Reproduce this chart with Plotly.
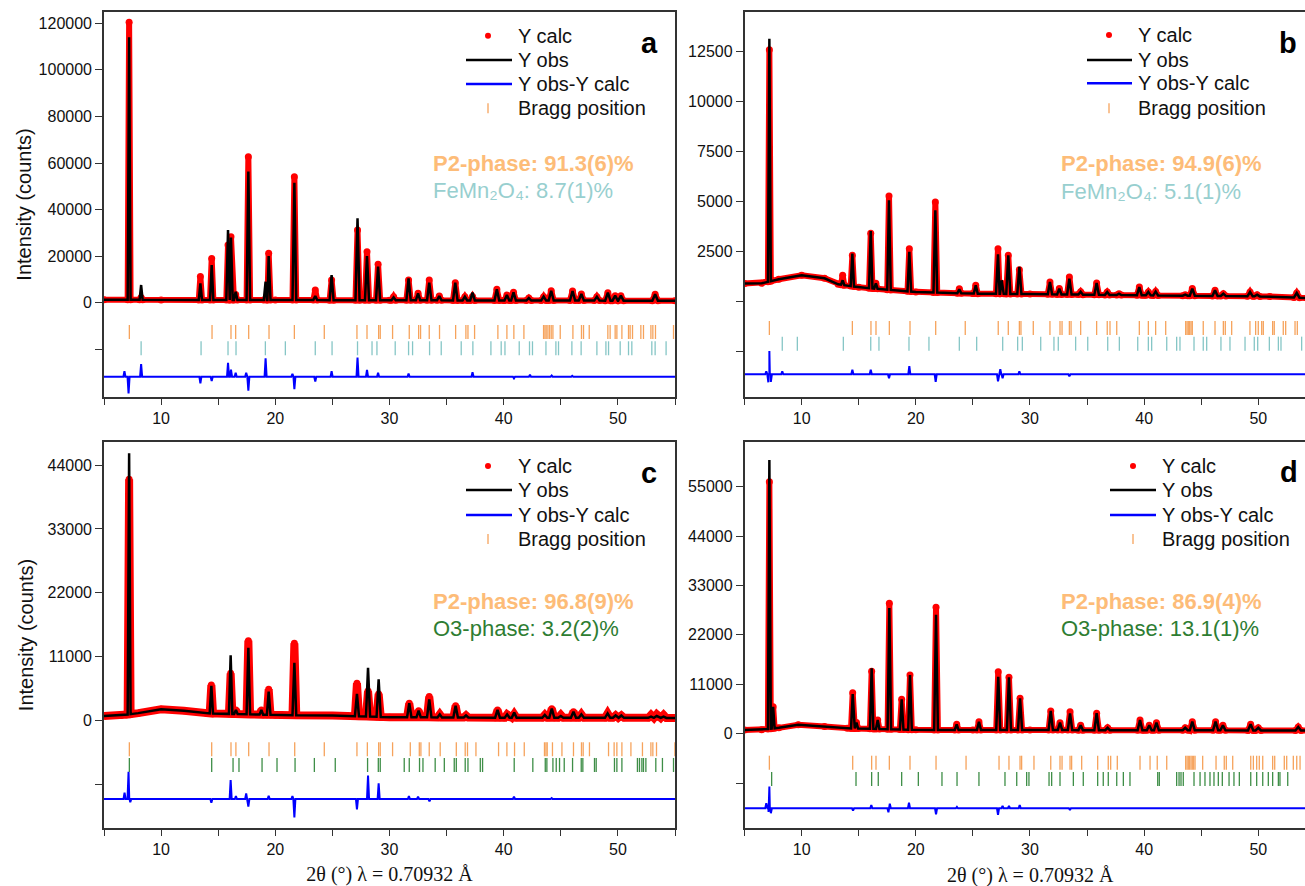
import numpy as np
import plotly.graph_objects as go

W, H = 1305, 886

# ---------------- Panel a ----------------
a_bg_x = [5, 10, 20, 30, 40, 55]
a_bg_y = [1250, 1200, 1150, 1050, 950, 850]
a_pk_x = [7.2, 8.25, 13.44, 14.43, 15.86, 16.12, 16.53, 17.64, 19.15, 19.42, 21.67, 23.5, 24.93,
          27.2, 28.03, 29.0, 30.36, 31.67, 32.5, 33.48, 34.36, 35.76, 36.6, 37.27, 39.4, 40.28,
          40.86, 42.2, 43.5, 44.16, 46.03, 46.8, 48.16, 49.12, 49.76, 50.26, 53.26]
a_obs = [114000, 7600, 8300, 16200, 31200, 28000, 4700, 56300, 9000, 20000, 51500, 2900, 11900,
         36250, 20000, 15500, 2300, 10480, 4040, 8600, 2900, 8600, 2600, 4300, 5750, 3300,
         4470, 2000, 2600, 5150, 5020, 3740, 2600, 4300, 3000, 3000, 3600]
a_calc = [120500, 2200, 11200, 19000, 24800, 28300, 3500, 62700, 1500, 21200, 54100, 5450, 9750,
          31200, 21900, 16500, 2600, 9800, 4040, 9750, 2900, 8600, 2600, 2700, 5750, 3300,
          4470, 2000, 2600, 5150, 5020, 3740, 2600, 4300, 3000, 3000, 3600]
a_diff_x = [6.79, 7.15, 8.25, 13.44, 14.43, 15.86, 16.12, 16.53, 17.45, 17.64, 19.15, 21.5, 21.67,
            23.5, 24.93, 27.2, 28.03, 29.0, 31.67, 37.27, 40.9, 42.3, 44.2, 46.0]
a_diff_y = [2400, -7200, 5400, -2900, -1900, 6000, 3000, 1700, 1700, -6000, 7900, 1200, -5400,
            -2100, 2400, 8200, 2900, 1700, 1400, 1900, -700, 800, 500, 400]
a_p2 = [7.22, 14.46, 16.12, 16.53, 17.67, 19.45, 21.67, 24.29, 27.15, 28.03, 29.05, 29.19, 30.27,
        31.73, 32.55, 32.72, 33.48, 34.38, 35.79, 36.69, 36.87, 37.45, 39.49, 40.28, 40.89, 41.77,
        43.49, 43.61, 43.72, 43.87, 44.01, 44.16, 44.31, 44.95, 46.06, 46.81, 46.99, 47.49, 49.12,
        49.32, 49.76, 49.91, 50.35, 50.93, 51.07, 51.28, 52.01, 52.24, 52.89, 53.06, 53.29, 54.87]
a_ph2 = [8.25, 13.5, 15.86, 16.56, 19.13, 20.88, 23.5, 24.97, 27.2, 28.47, 28.9, 30.5, 31.67, 32.02,
         33.51, 34.53, 36.28, 37.3, 38.88, 39.78, 40.11, 41.36, 42.26, 42.52, 43.7, 44.57, 44.8,
         45.97, 46.78, 48.16, 48.95, 49.18, 50.2, 50.93, 51.22, 52.97, 53.26, 54.22]

# ---------------- Panel b ----------------
b_bg_x = [5, 6.5, 8, 10, 12, 13.2, 15, 20, 25, 30, 40, 51, 55]
b_bg_y = [885, 900, 1100, 1300, 1150, 850, 700, 465, 385, 360, 300, 240, 150]
b_pk_x = [7.17, 13.59, 14.44, 16.05, 16.5, 17.65, 19.43, 21.71, 23.81, 25.25, 27.2, 27.52, 28.1,
          29.07, 31.75, 32.57, 33.45, 34.44, 35.84, 36.77, 37.8, 39.58, 40.37, 41.01, 43.6, 44.22,
          46.21, 46.94, 49.28, 49.9, 53.37]
b_obs = [13130, 1050, 2385, 3515, 900, 5050, 2470, 4550, 600, 800, 2350, 1050, 2300,
         1717, 965, 635, 1130, 480, 915, 465, 380, 715, 465, 485, 330, 635,
         550, 380, 465, 330, 415]
b_calc = [12580, 1300, 2300, 3400, 900, 5270, 2630, 4970, 630, 800, 2630, 900, 2300,
          1580, 965, 635, 1215, 480, 915, 465, 380, 715, 465, 485, 330, 635,
          550, 380, 465, 330, 415]
b_diff_x = [6.9, 7.08, 7.17, 7.3, 8.3, 14.44, 16.05, 17.65, 19.43, 21.74, 27.2, 27.4, 27.6, 29.07, 33.45]
b_diff_y = [150, -400, 1170, -380, 150, 230, 230, -200, 415, -380, -350, 250, -200, 150, -100]
b_p2 = [7.17, 14.44, 16.07, 16.51, 17.68, 19.49, 21.74, 24.33, 27.22, 28.1, 29.07, 29.21, 30.29,
        31.75, 32.63, 32.81, 33.45, 33.6, 34.44, 35.84, 36.77, 37.01, 37.6, 39.58, 40.37, 41.01,
        41.89, 43.64, 43.76, 43.87, 43.99, 44.11, 44.22, 45.18, 46.21, 46.94, 47.11, 47.67, 49.27,
        49.77, 50.0, 50.3, 50.44, 51.26, 51.4, 52.19, 52.4, 53.22, 53.42]
b_ph2 = [8.3, 9.62, 13.65, 16.05, 16.77, 19.4, 21.15, 23.81, 25.33, 27.61, 28.92, 29.33, 30.94,
         32.1, 32.48, 34.0, 35.06, 36.81, 37.83, 39.44, 40.37, 40.66, 41.98, 42.85, 43.14, 44.37,
         45.18, 45.48, 46.73, 47.52, 48.84, 49.65, 49.95, 50.97, 51.76, 51.99, 53.8]

# ---------------- Panel c ----------------
c_bg_x = [5, 6.5, 8, 10, 12, 14, 20, 25, 30, 40, 55]
c_bg_y = [810, 900, 1300, 1960, 1700, 1270, 980, 900, 600, 520, 480]
c_pk_x = [7.2, 14.4, 16.09, 16.55, 17.64, 18.78, 19.42, 21.67, 27.15, 28.12, 29.05, 31.73, 32.55,
          33.48, 34.4, 35.79, 36.7, 39.46, 40.3, 40.92, 43.6, 44.21, 45.0, 46.11, 46.8, 49.1,
          49.8, 50.3, 52.9, 53.4, 54.0]
c_obs = [46020, 6000, 11250, 1840, 12560, 1840, 5000, 9980, 4600, 9120, 7120, 2990, 1720,
         3680, 1100, 2580, 900, 1840, 1100, 1380, 1000, 2070, 800, 1550, 1100, 1260,
         900, 900, 700, 800, 700]
c_calc = [41550, 6140, 8150, 1840, 13770, 1840, 5400, 13320, 6440, 5100, 4600, 2990, 1720,
          4140, 1100, 2580, 900, 1840, 1100, 1150, 1000, 2070, 1000, 1550, 1100, 1260,
          900, 900, 1000, 1100, 1000]
c_diff_x = [6.8, 7.15, 7.3, 14.4, 16.09, 16.55, 17.45, 17.64, 19.42, 21.5, 21.67, 27.15, 28.12,
            29.05, 31.7, 32.5, 33.5, 40.9, 44.2]
c_diff_y = [1090, 4700, -570, -630, 3270, 500, 980, -1320, 570, 500, -3150, -1780, 4020,
            2700, 500, 400, -400, 400, 150]
c_p2 = [7.22, 14.43, 16.12, 16.55, 17.67, 19.45, 21.7, 24.29, 27.15, 28.06, 29.05, 29.19, 30.27,
        31.82, 32.61, 32.75, 33.48, 34.44, 35.85, 36.63, 36.83, 37.57, 39.55, 40.28, 40.95, 41.8,
        43.57, 43.7, 43.81, 44.27, 45.1, 46.11, 46.81, 46.96, 47.51, 49.18, 49.67, 49.91, 50.35,
        51.14, 52.15, 52.89, 53.06, 53.38, 54.99]
c_ph2 = [7.22, 14.43, 16.3, 16.82, 18.84, 20.15, 21.73, 23.42, 25.25, 28.08, 29.02, 29.19, 31.29,
         31.73, 32.63, 32.93, 34.0, 34.8, 35.67, 35.85, 36.63, 36.87, 37.95, 38.15, 40.92, 42.55,
         43.64, 43.78, 44.31, 44.6, 44.89, 45.3, 46.03, 46.79, 46.93, 47.95, 48.1, 49.7, 49.91,
         50.35, 51.71, 51.89, 52.1, 52.24, 52.45, 53.32, 53.9, 54.87]

# ---------------- Panel d ----------------
d_bg_x = [5, 6.5, 8, 9.7, 12, 14, 20, 25, 30, 40, 55]
d_bg_y = [820, 900, 1300, 2000, 1600, 1200, 850, 800, 800, 780, 700]
d_pk_x = [7.17, 7.5, 14.47, 14.8, 16.13, 16.66, 17.68, 18.76, 19.49, 21.77, 23.58, 25.53, 27.22,
          28.16, 29.13, 31.82, 32.63, 33.51, 34.44, 35.84, 36.8, 39.64, 40.45, 41.08, 43.6, 44.22,
          46.26, 46.9, 49.33, 50.0, 53.5]
d_obs = [60950, 6000, 8800, 2500, 14560, 3050, 28000, 7660, 13070, 26500, 2090, 2670, 12690,
         12550, 7880, 5050, 2450, 4500, 1850, 4540, 1300, 3050, 1850, 2450, 1300, 2670,
         2670, 1850, 2100, 1300, 1480]
d_calc = [56120, 6000, 9130, 2500, 13900, 3050, 29040, 7660, 13070, 28150, 2090, 2670, 13810,
          12550, 7880, 5050, 2450, 4900, 1850, 4540, 1300, 3050, 1850, 2450, 1300, 2670,
          2670, 1850, 2100, 1300, 1480]
d_diff_x = [6.9, 7.1, 7.17, 7.3, 14.5, 16.1, 17.6, 17.72, 19.4, 21.77, 23.6, 27.2, 27.6, 28.16, 29.1, 33.5]
d_diff_y = [1110, -800, 4830, -1110, -520, 740, -900, 1000, 1260, -1340, 300, -1480, 500, 500, 740, -400]
d_p2 = [7.17, 14.47, 16.13, 16.51, 17.68, 19.49, 21.77, 24.4, 27.29, 28.16, 29.13, 29.27, 30.35,
        31.82, 32.63, 32.81, 33.51, 33.65, 34.53, 35.93, 36.86, 37.07, 37.65, 39.64, 40.52, 41.15,
        41.98, 43.64, 43.76, 43.87, 43.99, 44.11, 44.22, 44.34, 44.46, 45.13, 46.3, 47.02, 47.2,
        47.76, 49.34, 49.57, 49.86, 50.09, 50.39, 51.26, 51.44, 52.28, 52.49, 53.07, 53.37, 53.66]
d_ph2 = [7.37, 14.76, 16.13, 16.71, 18.76, 20.22, 22.29, 23.61, 25.53, 27.81, 28.84, 29.71, 29.91,
         31.67, 31.9, 32.63, 33.8, 34.67, 35.93, 36.42, 36.86, 37.6, 38.18, 38.76, 41.19, 41.33,
         42.85, 43.06, 43.23, 43.43, 44.37, 44.9, 45.33, 45.77, 46.12, 46.5, 46.85, 47.44, 47.87,
         48.34, 49.34, 49.86, 50.39, 50.88, 51.26, 51.76, 51.9, 52.58]

X_TICKS_MAJOR = [10, 20, 30, 40, 50]
X_TICKS_MINOR = [5, 15, 25, 35, 45, 55]
Y_TITLE = "Intensity (counts)"
X_TITLE = "2θ (°) λ = 0.70932 Å"

SANS = "Liberation Sans, Arial, sans-serif"
SERIF = "Liberation Serif, Times New Roman, serif"
ORANGE_TXT = "#FDBC78"
TEAL_TXT = "#98CFCF"
GREEN_TXT = "#2E7D32"
ORANGE_TICK = "#F6A35C"
TEAL_TICK = "#86C6C6"
GREEN_TICK = "#3E8E47"


def profile(bg_x, bg_y, pk_x, pk_y):
    xs = list(bg_x)
    ys = list(bg_y)
    for p, h in zip(pk_x, pk_y):
        hw = 0.11 + 0.0025 * p  # peaks broaden slightly with angle
        for dx in (-hw, hw):
            xs.append(p + dx)
            ys.append(float(np.interp(p + dx, bg_x, bg_y)))
        xs.append(p)
        ys.append(h)
    order = np.argsort(xs, kind="stable")
    return np.array(xs)[order], np.array(ys)[order]


def diff_curve(dx, dy, offset, hw=0.09):
    xs = [5.0, 55.0]
    ys = [0.0, 0.0]
    for p, v in zip(dx, dy):
        xs += [p - hw, p, p + hw]
        ys += [0.0, v, 0.0]
    order = np.argsort(xs, kind="stable")
    return np.array(xs)[order], np.array(ys)[order] + offset


panels = [
    dict(bgx=a_bg_x, bgy=a_bg_y, pk=a_pk_x, obs=a_obs, calc=a_calc, dx=a_diff_x, dy=a_diff_y,
         b1=a_p2, b2=a_ph2, c2=TEAL_TICK, off=-31780, lv1=-12580, lv2=-19580,
         xd=(104, 675), yd=(12, 397), xr=(5, 55), yr=(-40500, 124850),
         yt=[0, 20000, 40000, 60000, 80000, 100000, 120000], ym=[-20000], redw=6, right=False,
         xtitle=False, ytitle=2),
    dict(bgx=b_bg_x, bgy=b_bg_y, pk=b_pk_x, obs=b_obs, calc=b_calc, dx=b_diff_x, dy=b_diff_y,
         b1=b_p2, b2=b_ph2, c2=TEAL_TICK, off=-3650, lv1=-1335, lv2=-2117,
         xd=(744.6, 1305), yd=(12, 397), xr=(5, 5 + (1305 - 744.6) / 11.415), yr=(-4785, 14465),
         yt=[2500, 5000, 7500, 10000, 12500], ym=[-2500, 0], redw=6, right=True,
         xtitle=False, ytitle=None),
    dict(bgx=c_bg_x, bgy=c_bg_y, pk=c_pk_x, obs=c_obs, calc=c_calc, dx=c_diff_x, dy=c_diff_y,
         b1=c_p2, b2=c_ph2, c2=GREEN_TICK, off=-13480, lv1=-4920, lv2=-7620,
         xd=(104, 675), yd=(441.7, 828.3), xr=(5, 55), yr=(-18520, 48010),
         yt=[0, 11000, 22000, 33000, 44000], ym=[-11000], redw=8, right=False,
         xtitle=True, ytitle=9),
    dict(bgx=d_bg_x, bgy=d_bg_y, pk=d_pk_x, obs=d_obs, calc=d_calc, dx=d_diff_x, dy=d_diff_y,
         b1=d_p2, b2=d_ph2, c2=GREEN_TICK, off=-16610, lv1=-6460, lv2=-10090,
         xd=(744.6, 1305), yd=(441.7, 828.3), xr=(5, 5 + (1305 - 744.6) / 11.415), yr=(-21070, 65020),
         yt=[0, 11000, 22000, 33000, 44000, 55000], ym=[-11000], redw=6, right=True,
         xtitle=False, ytitle=None),
]

fig = go.Figure()
layout = dict(width=W, height=H, margin=dict(l=0, r=0, t=0, b=0),
              paper_bgcolor="white", plot_bgcolor="white", showlegend=False,
              font=dict(family=SANS, size=16, color="#111"))

annotations = []
shapes = []


def px(x):
    return x / W


def py(y):
    return 1 - y / H


for i, P in enumerate(panels):
    k = "" if i == 0 else str(i + 1)
    xa, ya = "x" + k, "y" + k
    cx, cy = profile(P["bgx"], P["bgy"], P["pk"], P["calc"])
    ox, oy = profile(P["bgx"], P["bgy"], P["pk"], P["obs"])
    fx, fy = diff_curve(P["dx"], P["dy"], P["off"])
    fig.add_trace(go.Scatter(x=cx, y=cy, mode="lines+markers", name="Y calc",
                             line=dict(color="#FF0000", width=P["redw"]),
                             marker=dict(color="#FF0000", size=7), xaxis=xa, yaxis=ya))
    fig.add_trace(go.Scatter(x=ox, y=oy, mode="lines", name="Y obs",
                             line=dict(color="black", width=2.5), xaxis=xa, yaxis=ya))
    fig.add_trace(go.Scatter(x=fx, y=fy, mode="lines", name="Y obs-Y calc",
                             line=dict(color="#0000FF", width=2), xaxis=xa, yaxis=ya))
    fig.add_trace(go.Scatter(x=P["b1"], y=[P["lv1"]] * len(P["b1"]), mode="markers", name="Bragg position",
                             marker=dict(symbol="line-ns", size=10, line=dict(color=ORANGE_TICK, width=1.3)),
                             xaxis=xa, yaxis=ya))
    fig.add_trace(go.Scatter(x=P["b2"], y=[P["lv2"]] * len(P["b2"]), mode="markers", name="Bragg position 2",
                             marker=dict(symbol="line-ns", size=10, line=dict(color=P["c2"], width=1.3)),
                             xaxis=xa, yaxis=ya))

    xax = dict(domain=[px(P["xd"][0]), px(P["xd"][1])], range=list(P["xr"]),
               anchor=ya, tickvals=X_TICKS_MAJOR, ticks="outside",
               ticklen=6, tickwidth=1.3, tickcolor="#333", showline=True, linewidth=1.6,
               linecolor="#333", mirror=True, showgrid=False, zeroline=False,
               minor=dict(tickvals=X_TICKS_MINOR, ticks="outside", ticklen=6,
                          tickwidth=1.3, tickcolor="#333", showgrid=False),
               tickfont=dict(size=16, family=SANS, color="#111"))
    if P["xtitle"]:
        xax["title"] = dict(text=X_TITLE, font=dict(size=20, family=SERIF, color="#111"), standoff=14)
    yax = dict(domain=[py(P["yd"][1]), py(P["yd"][0])], range=list(P["yr"]),
               anchor=xa, tickvals=P["yt"], ticks="outside",
               ticklen=7, tickwidth=1.3, tickcolor="#333", showline=True, linewidth=1.6,
               linecolor="#333", mirror=(not P["right"]), showgrid=False, zeroline=False,
               tickformat="d",
               minor=dict(tickvals=P["ym"], ticks="outside", ticklen=7,
                          tickwidth=1.3, tickcolor="#333", showgrid=False),
               tickfont=dict(size=16, family=SANS, color="#111"))
    if P["ytitle"] is not None:
        yax["title"] = dict(text=Y_TITLE, font=dict(size=20, family=SANS, color="#111"),
                            standoff=P["ytitle"])
    layout["xaxis" + k] = xax
    layout["yaxis" + k] = yax

# ---- x title for panel d (its axis is clipped at the right edge, so centre on the full axis) ----
annotations.append(dict(text=X_TITLE, xref="paper", yref="paper", x=px(1030), y=py(875),
                        xanchor="center", yanchor="middle", showarrow=False,
                        font=dict(size=20, family=SERIF, color="#111")))

# ---- legends (drawn per panel) ----
legends = [
    dict(dot=488, l0=466, l1=512, tx=516, rows=[35.7, 60, 84, 108.3]),
    dict(dot=1109, l0=1087, l1=1132, tx=1136, rows=[35, 60, 83.3, 108.3]),
    dict(dot=488, l0=466, l1=512, tx=516, rows=[466, 490, 515, 539]),
    dict(dot=1133, l0=1110, l1=1156, tx=1160, rows=[466, 490, 515, 539]),
]
leg_labels = ["Y calc", "Y obs", "Y obs-Y calc", "Bragg position"]
for L in legends:
    r = L["rows"]
    shapes.append(dict(type="circle", xref="paper", yref="paper",
                       x0=px(L["dot"] - 3), x1=px(L["dot"] + 3), y0=py(r[0] + 3), y1=py(r[0] - 3),
                       fillcolor="#FF0000", line=dict(width=0)))
    shapes.append(dict(type="line", xref="paper", yref="paper", x0=px(L["l0"]), x1=px(L["l1"]),
                       y0=py(r[1]), y1=py(r[1]), line=dict(color="black", width=2.5)))
    shapes.append(dict(type="line", xref="paper", yref="paper", x0=px(L["l0"]), x1=px(L["l1"]),
                       y0=py(r[2]), y1=py(r[2]), line=dict(color="#0000FF", width=2.5)))
    shapes.append(dict(type="line", xref="paper", yref="paper", x0=px(L["dot"]), x1=px(L["dot"]),
                       y0=py(r[3] - 5), y1=py(r[3] + 5), line=dict(color=ORANGE_TICK, width=1.3)))
    for lab, yy in zip(leg_labels, r):
        annotations.append(dict(text=lab, xref="paper", yref="paper", x=px(L["tx"]), y=py(yy),
                                xanchor="left", yanchor="middle", showarrow=False,
                                font=dict(size=20, family=SANS, color="#111")))

# ---- panel letters ----
for lab, x, y in [("a", 649, 43), ("b", 1288, 43), ("c", 649, 473), ("d", 1289, 472)]:
    annotations.append(dict(text="<b>%s</b>" % lab, xref="paper", yref="paper", x=px(x), y=py(y),
                            xanchor="center", yanchor="middle", showarrow=False,
                            font=dict(size=29, family=SANS, color="black")))

# ---- phase fractions ----
phase_txt = [
    (431, 163, 190, "<b>P2-phase: 91.3(6)%</b>", "FeMn₂O₄: 8.7(1)%", TEAL_TXT),
    (1059, 163, 191, "<b>P2-phase: 94.9(6)%</b>", "FeMn₂O₄: 5.1(1)%", TEAL_TXT),
    (431, 601.7, 628.3, "<b>P2-phase: 96.8(9)%</b>", "O3-phase: 3.2(2)%", GREEN_TXT),
    (1059, 601.7, 628.3, "<b>P2-phase: 86.9(4)%</b>", "O3-phase: 13.1(1)%", GREEN_TXT),
]
for x, y1, y2, t1, t2, col in phase_txt:
    annotations.append(dict(text=t1, xref="paper", yref="paper", x=px(x), y=py(y1), xanchor="left",
                            yanchor="middle", showarrow=False, font=dict(size=22, family=SANS, color=ORANGE_TXT)))
    annotations.append(dict(text=t2, xref="paper", yref="paper", x=px(x), y=py(y2), xanchor="left",
                            yanchor="middle", showarrow=False, font=dict(size=22, family=SANS, color=col)))

layout["annotations"] = annotations
layout["shapes"] = shapes
fig.update_layout(**layout)
fig.write_html("out.html")
